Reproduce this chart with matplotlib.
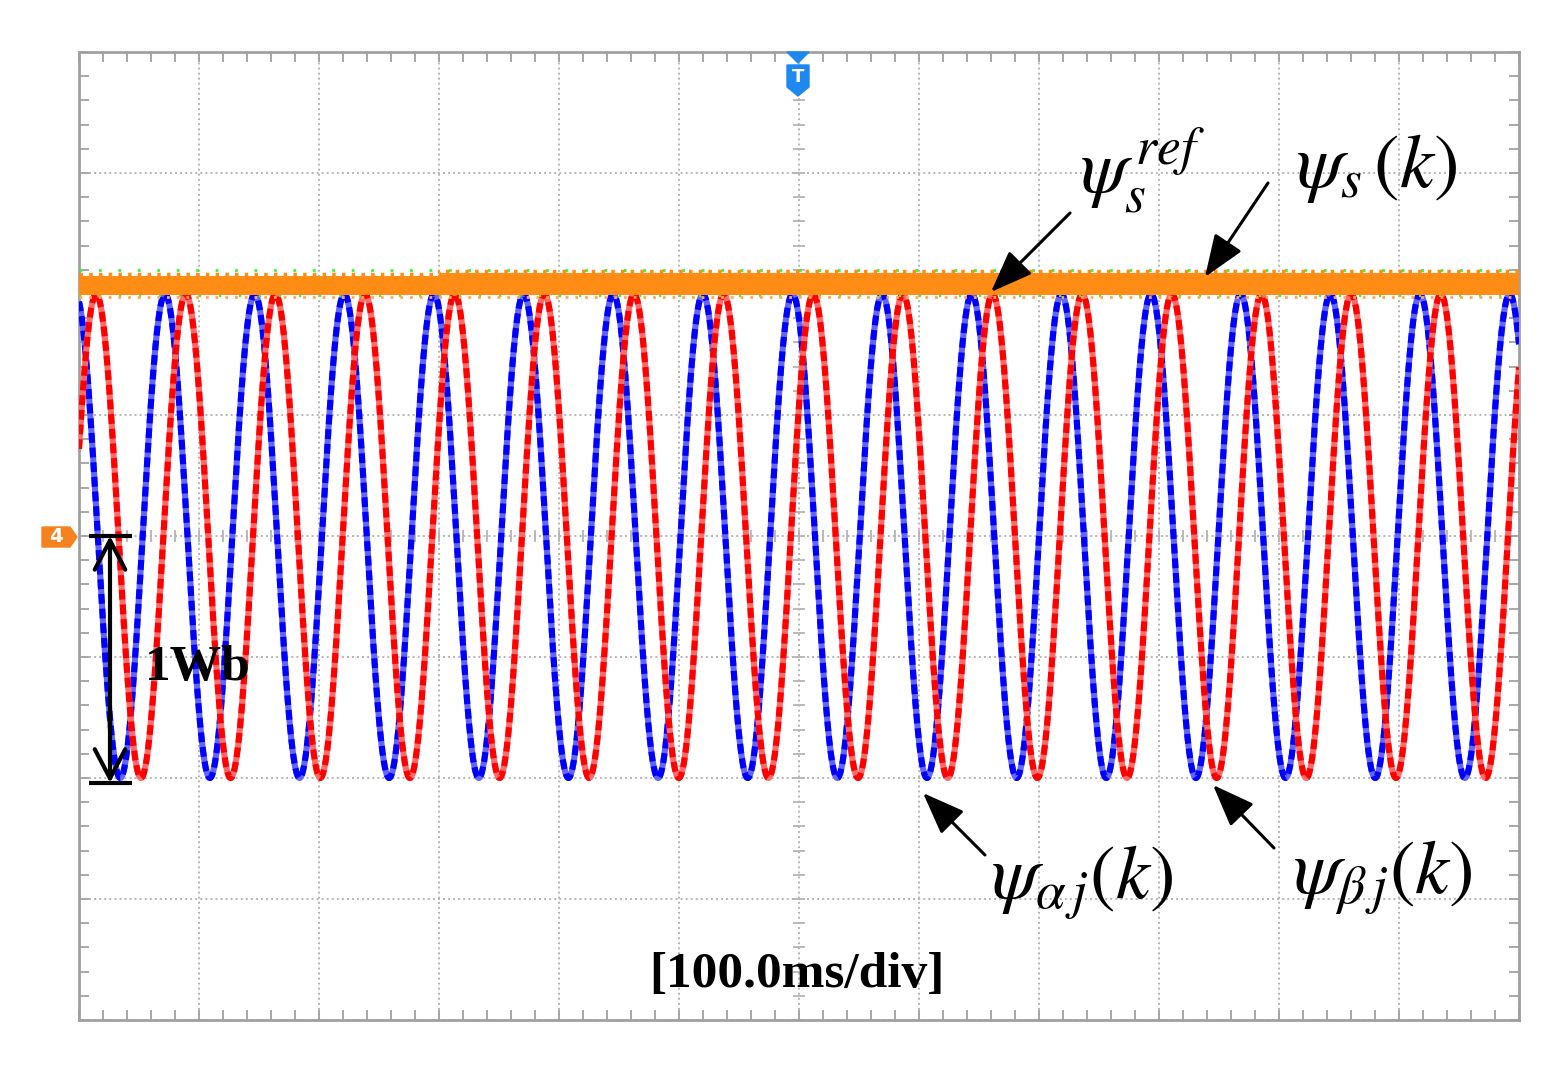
import numpy as np
import matplotlib
matplotlib.use("Agg")
import matplotlib.pyplot as plt
from matplotlib.patches import Polygon

plt.rcParams["mathtext.fontset"] = "stix"

# ---------------- data ----------------
time_per_div_ms = 100.0          # [100.0ms/div]
flux_per_div_wb = 0.5            # 1 Wb spans two divisions
n_xdiv, n_ydiv = 12, 8
amplitude_wb = 1.0               # psi_alpha / psi_beta amplitude
period_ms = 74.7                 # one electrical period
alpha_peak_ms = -3.0             # time of a psi_alpha peak
beta_peak_ms = 14.3              # time of a psi_beta peak (lags alpha)
mag_t_ms = [0, 300, 300, 1200]           # |psi_s(k)| band
mag_lo_wb = [0.995, 0.995, 0.995, 0.995]
mag_hi_wb = [1.075, 1.075, 1.088, 1.088]
ref_wb = 1.10                    # psi_s^ref trace (green, mostly hidden)
scale_bar_wb = [0.0, -1.02]      # the "1Wb" marker

# ---------------- figure ----------------
W, H = 1558, 1071
fig = plt.figure(figsize=(W / 100, H / 100), dpi=100)
L, R, T, B = 79, 1519, 52, 1020
ax = fig.add_axes([L / W, 1 - B / H, (R - L) / W, (B - T) / H])

xmax = n_xdiv * time_per_div_ms
ymax = n_ydiv / 2 * flux_per_div_wb
ax.set_xlim(0, xmax)
ax.set_ylim(-ymax, ymax)


def d(xp, yp):
    """pixel position in the picture -> data coordinates"""
    return ((xp - L) / (R - L) * xmax, ((T + B) / 2 - yp) / ((B - T) / 2) * ymax)


def f(xp, yp):
    return (xp / W, 1 - yp / H)


grid_c = "#b4b4b4"
frame_c = "#a0a0a0"
for s in ax.spines.values():
    s.set_color(frame_c)
    s.set_linewidth(2)

ax.set_xticks(np.arange(0, xmax + 1, time_per_div_ms))
ax.set_yticks(np.arange(-ymax, ymax + 0.01, flux_per_div_wb))
ax.set_xticks(np.arange(0, xmax + 1, time_per_div_ms / 5), minor=True)
ax.set_yticks(np.arange(-ymax, ymax + 0.01, flux_per_div_wb / 5), minor=True)
ax.tick_params(which="both", direction="in", length=7, width=1.3, color=frame_c,
               top=True, right=True, labelbottom=False, labelleft=False)
ax.grid(True, which="major", color=grid_c, linestyle=(0, (1, 1.6)), linewidth=1.4)

# centre-line ticks
cx = np.arange(0, xmax + 1, time_per_div_ms / 5)
cy = np.arange(-ymax, ymax + 0.01, flux_per_div_wb / 5)
ax.plot(cx, np.zeros_like(cx), ls="none", marker="|", ms=8, mew=1.3, color=grid_c, zorder=1)
ax.plot(np.full_like(cy, xmax / 2), cy, ls="none", marker="_", ms=8, mew=1.3, color=grid_c, zorder=1)

# ---------------- traces ----------------
t = np.linspace(0, xmax, 8001)
psi_a = amplitude_wb * np.cos(2 * np.pi * (t - alpha_peak_ms) / period_ms)
psi_b = amplitude_wb * np.cos(2 * np.pi * (t - beta_peak_ms) / period_ms)

lw = 4.4
ax.plot(t, psi_a, color="#6464ff", lw=lw, zorder=3, solid_capstyle="butt")
ax.plot(t, psi_a, color="#0000ff", lw=lw, zorder=3.1, dashes=(1.6, 0.8))
ax.plot(t, psi_b, color="#ff6a6a", lw=lw, zorder=3.2, solid_capstyle="butt")
ax.plot(t, psi_b, color="#ff0000", lw=lw, zorder=3.3, dashes=(1.6, 0.8))

# psi_s^ref (green) and |psi_s(k)| (orange)
ax.plot([0, xmax], [ref_wb, ref_wb], color="#3cf03c", lw=2, dashes=(1, 6), zorder=4)
ax.plot([0, xmax], [mag_lo_wb[0] - 0.005, mag_lo_wb[0] - 0.005], color="#3cf03c", lw=1.6,
        dashes=(1, 8), zorder=4)
ax.fill_between(mag_t_ms, mag_lo_wb, mag_hi_wb, color="#ff8c14", lw=0, zorder=5)
ax.plot(mag_t_ms, np.array(mag_hi_wb) + 0.008, color="#ff8c14", lw=2.5, dashes=(1, 1.8), zorder=5)
ax.plot(mag_t_ms, np.array(mag_lo_wb) - 0.006, color="#ffa850", lw=2.0, dashes=(1, 2.5), zorder=5)

# ---------------- scale bar "1Wb" ----------------
bx0, bx1 = d(89, 0)[0], d(132, 0)[0]
bxc = d(110, 0)[0]
for yv in scale_bar_wb:
    ax.plot([bx0, bx1], [yv, yv], color="k", lw=3, zorder=6, solid_capstyle="butt")
ax.annotate("", xy=(bxc, scale_bar_wb[0]), xytext=(bxc, scale_bar_wb[1]),
            arrowprops=dict(arrowstyle="<->,head_length=1.05,head_width=0.55", lw=3, color="k",
                            shrinkA=0, shrinkB=0, mutation_scale=20), zorder=6)
ax.text(*d(145, 680), "1Wb", fontsize=37, fontweight="bold", family="Liberation Serif",
        ha="left", va="baseline", zorder=7)

ax.text(*d(797, 987), "[100.0ms/div]", fontsize=37, fontweight="bold", family="Liberation Serif",
        ha="center", va="baseline", zorder=7)

# ---------------- labels with arrows ----------------
mfs = 55
labels = [
    (r"$\psi_s^{\,ref}$", (1143, 171), (1070, 213), (991, 292)),
    (r"$\psi_s\,(k)$", (1377, 168), (1268, 183), (1205, 277)),
    (r"$\psi_{\alpha\,j}(k)$", (1082, 882), (985, 855), (923, 793)),
    (r"$\psi_{\beta\,j}(k)$", (1383, 877), (1274, 848), (1213, 785)),
]
for txt, c, tail, tip in labels:
    ax.text(*d(*c), txt, fontsize=mfs, ha="center", va="center", zorder=8)
    ax.annotate("", xy=d(*tip), xytext=d(*tail),
                arrowprops=dict(arrowstyle="-|>,head_length=1.3,head_width=0.5", lw=2.2,
                                color="k", shrinkA=0, shrinkB=0, mutation_scale=20), zorder=8)

# ---------------- scope markers ----------------
tc = "#1e88f0"
fig.add_artist(Polygon([f(787, 52), f(809, 52), f(798, 63)], closed=True,
                       transform=fig.transFigure, color=tc, zorder=10))
fig.add_artist(Polygon([f(787, 65), f(809, 65), f(809, 87), f(798, 96), f(787, 87)], closed=True,
                       transform=fig.transFigure, color=tc, zorder=10))
fig.text(*f(798, 77), "T", color="white", fontsize=13, fontweight="bold", ha="center",
         va="center", zorder=11)

oc = "#f5821f"
fig.add_artist(Polygon([f(42, 527), f(70, 527), f(77, 537), f(70, 547), f(42, 547)], closed=True,
                       transform=fig.transFigure, color=oc, zorder=10))
fig.text(*f(56, 537), "4", color="white", fontsize=14, fontweight="bold", ha="center",
         va="center", zorder=11)

fig.savefig("out.png", dpi=100, facecolor="white")
